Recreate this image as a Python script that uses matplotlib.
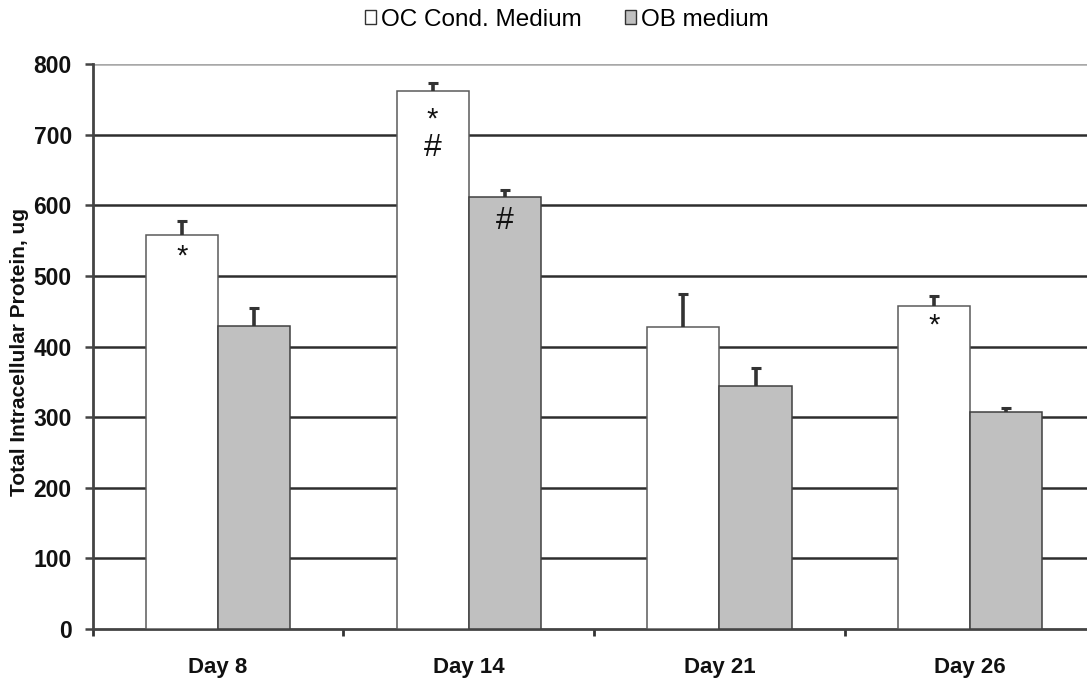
import matplotlib
matplotlib.use("Agg")
import matplotlib.pyplot as plt
from matplotlib.patches import Patch
import numpy as np

plt.rcParams['font.family'] = ['Liberation Sans', 'DejaVu Sans']

# Data
days = ["Day 8", "Day 14", "Day 21", "Day 26"]
oc_cond = [558, 762, 428, 457]
oc_err = [19, 11, 46, 15]
ob_medium = [429, 612, 344, 307]
ob_err = [25, 10, 25, 6]
series_names = ["OC Cond. Medium", "OB medium"]
y_ticks = [0, 100, 200, 300, 400, 500, 600, 700, 800]

# significance marks: (category index, series index, symbol, depth below bar top)
marks = [(0, 0, "*", 30), (1, 0, "*", 40), (1, 0, "#", 81),
         (1, 1, "#", 35), (3, 0, "*", 28)]

W, H = 1087, 679
fig = plt.figure(figsize=(W / 100, H / 100), dpi=100)
ax = fig.add_axes([92.7 / W, (H - 629) / H, 1002.8 / W, 565 / H])

x = np.arange(len(days))
bw = 0.288
ax.bar(x - bw / 2, oc_cond, width=bw, color="white", edgecolor="#5a5a5a",
       linewidth=1.1, zorder=3)
ax.bar(x + bw / 2, ob_medium, width=bw, color="#c0c0c0", edgecolor="#404040",
       linewidth=1.1, zorder=3)


def upper_errorbars(xpos, vals, errs):
    tops = np.asarray(vals) + np.asarray(errs)
    ax.vlines(xpos, vals, tops, color="#333333", linewidth=2.6, zorder=4)
    ax.plot(xpos, tops, linestyle="none", marker="_", markersize=6.5,
            markeredgewidth=2.2, color="#333333", zorder=4)


upper_errorbars(x - bw / 2, oc_cond, oc_err)
upper_errorbars(x + bw / 2, ob_medium, ob_err)

series_vals = [oc_cond, ob_medium]
for ci, si, sym, depth in marks:
    xc = x[ci] + (-bw / 2 if si == 0 else bw / 2)
    ax.text(xc, series_vals[si][ci] - depth, sym, ha="center", va="center",
            fontsize=21 if sym == "*" else 23, color="#111111", zorder=5)

ax.set_xlim(-0.5, len(days) - 0.5)
ax.set_ylim(0, 800)
ax.set_yticks(y_ticks)
ax.set_yticklabels([str(v) for v in y_ticks], fontsize=16.5, fontweight="bold",
                   color="#111111")

# category boundary ticks + centered labels
ax.set_xticks(np.arange(-0.5, len(days) - 0.5, 1.0))
ax.set_xticklabels([])
ax.set_xticks(x, minor=True)
ax.set_xticklabels(days, minor=True, fontsize=16, fontweight="bold",
                   color="#111111")
ax.tick_params(axis="x", which="major", length=5, width=2, color="#333333",
               direction="out")
ax.tick_params(axis="x", which="minor", length=0, pad=20)
ax.tick_params(axis="y", length=6, width=1.8, color="#444444", pad=9)

ax.grid(axis="y", color="#2e2e2e", linewidth=1.8)
ax.grid(axis="x", visible=False)
ax.set_axisbelow(True)
ax.get_ygridlines()[-1].set_color("#a8a8a8")
ax.get_ygridlines()[0].set_visible(False)

for s in ["top", "right"]:
    ax.spines[s].set_visible(False)
ax.spines["left"].set_color("#444444")
ax.spines["left"].set_linewidth(2)
ax.spines["bottom"].set_color("#444444")
ax.spines["bottom"].set_linewidth(2)

ax.set_ylabel("Total Intracellular Protein, ug", fontsize=15,
              fontweight="bold", color="#111111")
ax.yaxis.set_label_coords(-0.064, 0.49)

handles = [Patch(facecolor="white", edgecolor="#333333", linewidth=1),
           Patch(facecolor="#c0c0c0", edgecolor="#333333", linewidth=1)]
fig.legend(handles, series_names, loc="center", bbox_to_anchor=(566.7 / W, 1 - 20 / H),
           ncol=2, frameon=False, fontsize=17.5, handlelength=0.45,
           handleheight=0.5, handletextpad=0.2, columnspacing=1.8,
           borderaxespad=0)

fig.savefig("out.png", dpi=100)
